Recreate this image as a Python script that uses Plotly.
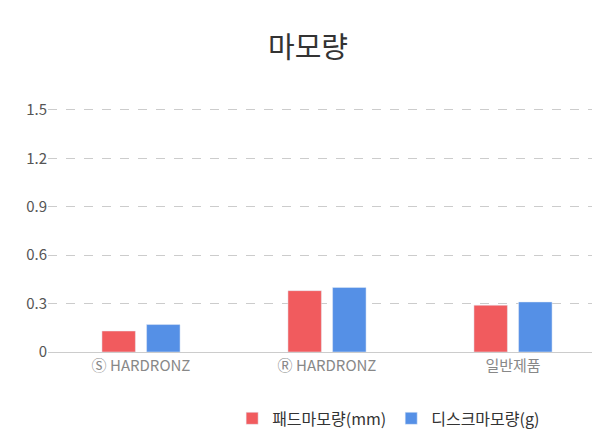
import plotly.graph_objects as go

categories = ["Ⓢ HARDRONZ", "Ⓡ HARDRONZ", "일반제품"]
pad_wear = [0.13, 0.38, 0.29]
disc_wear = [0.17, 0.40, 0.31]
tick_vals = [0, 0.3, 0.6, 0.9, 1.2, 1.5]
tick_text = ["0", "0.3", "0.6", "0.9", "1.2", "1.5"]

fig = go.Figure()
fig.add_bar(x=categories, y=pad_wear, name="패드마모량(mm)", marker_color="#f15b5e")
fig.add_bar(x=categories, y=disc_wear, name="디스크마모량(g)", marker_color="#5590e6")
fig.update_layout(
    width=600, height=430, paper_bgcolor="white", plot_bgcolor="white",
    font=dict(family="Noto Sans CJK KR", color="#555"),
    title=dict(text="마모량", x=0.5, y=0.93, xanchor="center", font=dict(size=29, color="#333")),
    margin=dict(l=40, r=2, t=97, b=86),
    bargap=0.52, bargroupgap=0.25,
    legend=dict(orientation="h", x=0.33, xanchor="left", y=-0.2, yanchor="top",
                font=dict(size=16, color="#333")),
    showlegend=True,
)
fig.update_yaxes(range=[0, 1.53], tickvals=tick_vals, ticktext=tick_text,
                 gridcolor="#ccc", griddash="dash", zeroline=False,
                 tickfont=dict(size=15, color="#555"), ticks="")
fig.update_xaxes(showline=True, linecolor="#ccc", tickfont=dict(size=15, color="#888"))
fig.write_html("out.html")
